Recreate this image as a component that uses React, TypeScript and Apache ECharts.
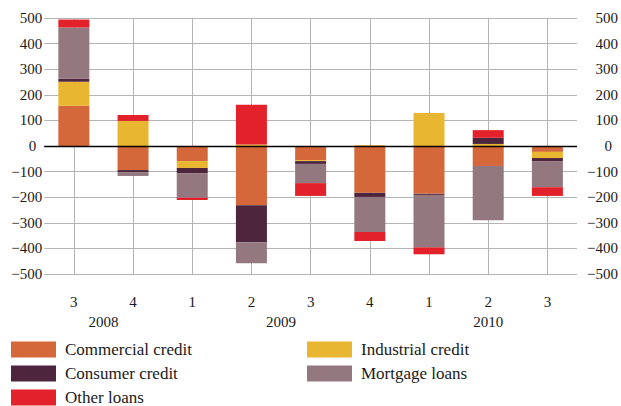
import React, { useEffect, useRef } from "react";
import * as echarts from "echarts";

// Categories: quarter and year of each bar
const quarters = ["3", "4", "1", "2", "3", "4", "1", "2", "3"];
const years = ["2008", "2008", "2009", "2009", "2009", "2009", "2010", "2010", "2010"];

// Series values
const commercialCredit = [157, -94, -59, -231, -55, -183, -187, -78, -23];
const industrialCredit = [94, 98, -27, 6, -4, 3, 129, 8, -24];
const consumerCredit = [12, -8, -20, -145, -11, -16, -4, 24, -12];
const mortgageLoans = [200, -15, -96, -82, -75, -137, -205, -212, -102];
const otherLoans = [31, 23, -9, 155, -50, -35, -27, 30, -34];

// Value axis range
const yMin = -500;
const yMax = 500;
const yStep = 100;

const FONT = "Liberation Serif";
const TEXT = "#1a1a1a";

const seriesDefs = [
  { name: "Commercial credit", data: commercialCredit, color: "#d4683b" },
  { name: "Industrial credit", data: industrialCredit, color: "#e9b631" },
  { name: "Consumer credit", data: consumerCredit, color: "#4d253c" },
  { name: "Mortgage loans", data: mortgageLoans, color: "#94787f" },
  { name: "Other loans", data: otherLoans, color: "#e2212a" },
];

export default function App() {
  const ref = useRef<HTMLDivElement>(null);

  useEffect(() => {
    if (!ref.current) return;
    const chart = echarts.init(ref.current, null, { renderer: "svg" });
    const categories = years.map((y, i) => `${y}-${quarters[i]}`);

    const yLabel = {
      fontFamily: FONT,
      fontSize: 15,
      color: TEXT,
      align: "right" as const,
      formatter: (v: number) => (v === 0 ? "{z|0}" : v < 0 ? "\u2212" + Math.abs(v) : String(v)),
      rich: { z: { fontFamily: FONT, fontSize: 15, color: TEXT, padding: [0, 6, 0, 0] } },
    };

    const series: any[] = seriesDefs.map((s) => ({
      name: s.name,
      type: "bar",
      stack: "total",
      barWidth: 31,
      data: s.data,
      itemStyle: { color: s.color },
      emphasis: { disabled: true },
    }));
    series[series.length - 1].markLine = {
      silent: true,
      symbol: "none",
      label: { show: false },
      lineStyle: { color: "#000", width: 1.3, type: "solid" },
      data: [{ yAxis: 0 }],
    };

    const legendCommon = {
      orient: "vertical" as const,
      icon: "rect",
      itemWidth: 45,
      itemHeight: 16,
      itemGap: 7,
      padding: 0,
      height: 66,
      selectedMode: false,
      textStyle: {
        fontFamily: FONT,
        fontSize: 17,
        color: TEXT,
        lineHeight: 15,
        padding: [0, 0, 0, 4],
      },
    };

    chart.setOption({
      animation: false,
      grid: { left: 44.25, right: 41.25, top: 18, bottom: 132, containLabel: false },
      legend: [
        { ...legendCommon, left: 11, top: 341, data: ["Commercial credit", "Consumer credit", "Other loans"] },
        { ...legendCommon, left: 307, top: 341, data: ["Industrial credit", "Mortgage loans"] },
      ],
      xAxis: [
        {
          type: "category",
          data: categories,
          position: "bottom",
          axisLine: { show: false },
          axisTick: { show: true, alignWithLabel: true, length: 8, lineStyle: { color: "#b4b4b4" } },
          splitLine: { show: true, alignWithLabel: true, lineStyle: { color: "#b4b4b4", width: 1 } },
          axisLabel: {
            margin: 20,
            fontFamily: FONT,
            fontSize: 15,
            color: TEXT,
            formatter: (v: string) => v.split("-")[1],
          },
        },
        {
          type: "category",
          data: categories,
          position: "top",
          axisLine: { show: false },
          axisTick: { show: true, alignWithLabel: true, length: 9, lineStyle: { color: "#b4b4b4" } },
          axisLabel: { show: false },
          splitLine: { show: false },
        },
      ],
      yAxis: [
        {
          type: "value",
          min: yMin,
          max: yMax,
          interval: yStep,
          position: "left",
          axisLine: { show: false },
          axisTick: { show: false },
          splitLine: { show: true, lineStyle: { color: "#b4b4b4", width: 1 } },
          axisLabel: { ...yLabel, margin: 2 },
        },
        {
          type: "value",
          min: yMin,
          max: yMax,
          interval: yStep,
          position: "right",
          axisLine: { show: false },
          axisTick: { show: false },
          splitLine: { show: false },
          axisLabel: { ...yLabel, margin: 41 },
        },
      ],
      series,
    });

    // Year labels centred under their quarters, positioned through the axis scale
    const groups: { year: string; first: number; last: number }[] = [];
    years.forEach((y, i) => {
      const g = groups[groups.length - 1];
      if (g && g.year === y) g.last = i;
      else groups.push({ year: y, first: i, last: i });
    });
    const graphic = groups.map((g) => {
      const x1 = chart.convertToPixel({ xAxisIndex: 0 }, categories[g.first]) as number;
      const x2 = chart.convertToPixel({ xAxisIndex: 0 }, categories[g.last]) as number;
      return {
        type: "text",
        x: (x1 + x2) / 2,
        y: 322,
        silent: true,
        style: {
          text: g.year,
          fontFamily: FONT,
          fontSize: 15,
          fill: TEXT,
          textAlign: "center",
          textVerticalAlign: "middle",
        },
      };
    });
    chart.setOption({ graphic });

    return () => chart.dispose();
  }, []);

  return (
    <div
      ref={ref}
      style={{ position: "fixed", left: 0, top: 0, width: 621, height: 406, background: "#fff" }}
    />
  );
}
